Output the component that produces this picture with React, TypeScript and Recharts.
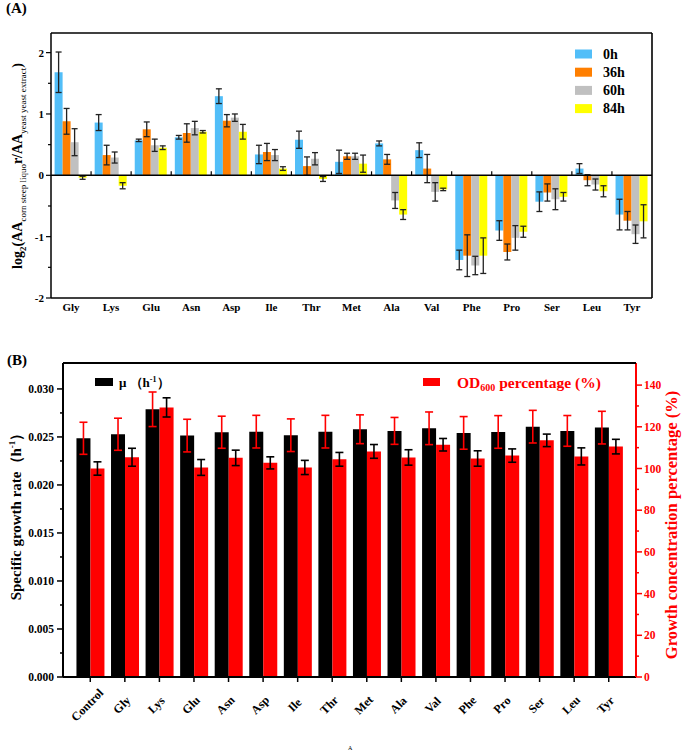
import React from 'react';
import { BarChart, Bar, XAxis, YAxis, ErrorBar, ReferenceLine } from 'recharts';

const FONT = '"Liberation Serif", "Times New Roman", serif';

// ---- panel A: log2 ratio per amino acid at four time points
const aminoA = ['Gly', 'Lys', 'Glu', 'Asn', 'Asp', 'Ile', 'Thr', 'Met', 'Ala', 'Val', 'Phe', 'Pro', 'Ser', 'Leu', 'Tyr'];
const h0 = [1.68, 0.86, 0.57, 0.62, 1.29, 0.34, 0.58, 0.22, 0.52, 0.41, -1.38, -0.9, -0.43, 0.11, -0.64];
const h0Err = [0.33, 0.13, 0.02, 0.03, 0.12, 0.15, 0.14, 0.19, 0.04, 0.12, 0.16, 0.16, 0.16, 0.08, 0.25];
const h36 = [0.88, 0.33, 0.75, 0.69, 0.89, 0.38, 0.15, 0.31, 0.26, 0.11, -1.31, -1.25, -0.28, -0.08, -0.74];
const h36Err = [0.21, 0.16, 0.12, 0.15, 0.1, 0.14, 0.15, 0.05, 0.08, 0.23, 0.34, 0.13, 0.14, 0.09, 0.15];
const h60 = [0.54, 0.29, 0.49, 0.77, 0.94, 0.33, 0.27, 0.31, -0.41, -0.27, -1.47, -1.02, -0.39, -0.15, -0.96];
const h60Err = [0.22, 0.09, 0.1, 0.11, 0.06, 0.09, 0.1, 0.05, 0.13, 0.15, 0.15, 0.2, 0.17, 0.09, 0.15];
const h84 = [-0.04, -0.17, 0.45, 0.71, 0.71, 0.11, -0.06, 0.19, -0.64, -0.23, -1.31, -0.92, -0.35, -0.26, -0.75];
const h84Err = [0.025, 0.05, 0.03, 0.02, 0.12, 0.03, 0.04, 0.14, 0.08, 0.02, 0.29, 0.09, 0.07, 0.09, 0.27];
const seriesA = ['0h', '36h', '60h', '84h'];
const colorsA = ['#52BEF8', '#FF7F00', '#C0C0C0', '#FFFF00'];
const ticksA = [-2, -1.5, -1, -0.5, 0, 0.5, 1, 1.5, 2];
const domainA = [-2, 2.32];

// ---- panel B: growth rate and OD600 percentage
const groupsB = ['Control', 'Gly', 'Lys', 'Glu', 'Asn', 'Asp', 'Ile', 'Thr', 'Met', 'Ala', 'Val', 'Phe', 'Pro', 'Ser', 'Leu', 'Tyr'];
const mu = [0.02486, 0.02528, 0.02788, 0.02514, 0.02549, 0.02555, 0.02518, 0.02555, 0.0258, 0.02563, 0.0259, 0.02542, 0.02552, 0.02607, 0.02563, 0.02597];
const muErr = [0.00167, 0.00167, 0.0018, 0.0017, 0.00167, 0.0017, 0.0017, 0.0017, 0.0015, 0.0014, 0.0017, 0.0017, 0.0017, 0.0017, 0.0016, 0.0017];
const od = [100.0, 105.4, 129.3, 100.5, 105.1, 102.7, 100.5, 104.4, 108.2, 105.3, 111.4, 104.8, 106.2, 113.5, 105.8, 110.5];
const odErr = [3.2, 4.3, 4.6, 3.8, 3.7, 2.9, 3.4, 3.3, 3.3, 3.7, 3.0, 3.7, 3.2, 3.0, 4.1, 3.5];
const ticksBLeft = [0, 0.0025, 0.005, 0.0075, 0.01, 0.0125, 0.015, 0.0175, 0.02, 0.0225, 0.025, 0.0275, 0.03];
const ticksBRight = [0, 10, 20, 30, 40, 50, 60, 70, 80, 90, 100, 110, 120, 130, 140];

const dataA = aminoA.map((name, i) => ({
  name,
  v0: h0[i], e0: h0Err[i],
  v36: h36[i], e36: h36Err[i],
  v60: h60[i], e60: h60Err[i],
  v84: h84[i], e84: h84Err[i],
}));
const keysA = [['v0', 'e0'], ['v36', 'e36'], ['v60', 'e60'], ['v84', 'e84']];

const dataB = groupsB.map((name, i) => ({ name, mu: mu[i], muErr: muErr[i], od: od[i], odErr: odErr[i] }));

const bold = { fontFamily: FONT, fontWeight: 'bold' as const };

const TickYA = (props: any) => {
  const { x, y, payload } = props;
  const v = payload.value;
  const major = Number.isInteger(v);
  return (
    <g>
      <line x1={x} x2={x - (major ? 5 : 3)} y1={y} y2={y} stroke="#000" strokeWidth={1.2} />
      {major && (
        <text x={x - 7} y={y} dy={4} textAnchor="end" fontSize={11} fill="#000" {...bold}>{v}</text>
      )}
    </g>
  );
};

const TickXA = (props: any) => {
  const { x, y, payload } = props;
  return (
    <text x={x} y={y} dy={13} textAnchor="middle" fontSize={11} fill="#000" {...bold}>{payload.value}</text>
  );
};

const TickYBLeft = (props: any) => {
  const { x, y, payload } = props;
  const v = payload.value;
  const major = Math.abs(v / 0.005 - Math.round(v / 0.005)) < 1e-6;
  return (
    <g>
      <line x1={x} x2={x - (major ? 6 : 3)} y1={y} y2={y} stroke="#000" strokeWidth={1.5} />
      {major && (
        <text x={x - 9} y={y} dy={4} textAnchor="end" fontSize={11.5} fill="#000" {...bold}>{v.toFixed(3)}</text>
      )}
    </g>
  );
};

const TickYBRight = (props: any) => {
  const { x, y, payload } = props;
  const v = payload.value;
  const major = v % 20 === 0;
  return (
    <g>
      <line x1={x} x2={x + (major ? 6 : 3)} y1={y} y2={y} stroke="#FF0000" strokeWidth={1.5} />
      {major && (
        <text x={x + 8} y={y} dy={4} textAnchor="start" fontSize={11.5} fill="#FF0000" {...bold}>{v}</text>
      )}
    </g>
  );
};

const TickXB = (props: any) => {
  const { x, y, payload } = props;
  return (
    <g>
      <line x1={x} x2={x} y1={y} y2={y + 5} stroke="#000" strokeWidth={1.5} />
      <text transform={`translate(${x - 3},${y + 28}) rotate(-45)`} dy={4} textAnchor="middle" fontSize={12} fill="#000" {...bold}>
        {payload.value}
      </text>
    </g>
  );
};

// zero line with small ticks at category boundaries
const ZeroLine = (props: any) => {
  const { x1, x2, y1 } = props;
  const n = aminoA.length;
  const step = (x2 - x1) / n;
  const marks = [];
  for (let k = 1; k < n; k++) {
    const xx = x1 + k * step;
    marks.push(<line key={k} x1={xx} x2={xx} y1={y1} y2={y1 - 4} stroke="#000" strokeWidth={1.2} />);
  }
  return (
    <g>
      <line x1={x1} x2={x2} y1={y1} y2={y1} stroke="#000" strokeWidth={1.5} />
      {marks}
    </g>
  );
};

export default function App() {
  return (
    <div style={{ position: 'absolute', left: 0, top: 0, width: 685, height: 751, background: '#fff', overflow: 'hidden' }}>
      <div style={{ position: 'absolute', left: 0, top: 0, width: 685, height: 320 }}>
        <BarChart width={685} height={320} data={dataA} margin={{ top: 33, right: 33, bottom: 2, left: 11 }} barCategoryGap="9%" barGap={0}>
          <XAxis dataKey="name" interval={0} height={20} tickSize={0} tickMargin={0} tickLine={false} tick={<TickXA />} axisLine={{ stroke: '#000', strokeWidth: 1.5 }} />
          <YAxis type="number" domain={domainA} allowDataOverflow ticks={ticksA} interval={0} width={40} tickSize={0} tickMargin={0} tickLine={false} tick={<TickYA />} axisLine={{ stroke: '#000', strokeWidth: 1.5 }} />
          {keysA.map(([vk, ek], i) => (
            <Bar key={vk} dataKey={vk} name={seriesA[i]} fill={colorsA[i]} isAnimationActive={false}>
              <ErrorBar dataKey={ek} width={3} stroke="#222" strokeWidth={1.3} isAnimationActive={false} />
            </Bar>
          ))}
          <ReferenceLine y={0} shape={<ZeroLine />} ifOverflow="visible" />
        </BarChart>
      </div>

      <div style={{ position: 'absolute', left: 0, top: 330, width: 685, height: 421 }}>
        <BarChart width={685} height={421} data={dataB} margin={{ top: 33, right: 9, bottom: 14, left: 13 }} barCategoryGap="10%" barGap={0}>
          <XAxis dataKey="name" interval={0} height={60} padding={{ left: 10, right: 10 }} tickSize={0} tickMargin={0} tickLine={false} tick={<TickXB />} axisLine={{ stroke: '#000', strokeWidth: 2 }} />
          <YAxis yAxisId="left" type="number" domain={[0, 0.0327]} allowDataOverflow ticks={ticksBLeft} interval={0} width={50} tickSize={0} tickMargin={0} tickLine={false} tick={<TickYBLeft />} axisLine={{ stroke: '#000', strokeWidth: 2 }} />
          <YAxis yAxisId="right" orientation="right" type="number" domain={[0, 150.6]} allowDataOverflow ticks={ticksBRight} interval={0} width={40} tickSize={0} tickMargin={0} tickLine={false} tick={<TickYBRight />} axisLine={{ stroke: '#FF0000', strokeWidth: 2 }} />
          <Bar yAxisId="left" dataKey="mu" fill="#000000" isAnimationActive={false}>
            <ErrorBar dataKey="muErr" width={4} stroke="#FF0000" strokeWidth={1.6} isAnimationActive={false} />
          </Bar>
          <Bar yAxisId="right" dataKey="od" fill="#FF0000" isAnimationActive={false}>
            <ErrorBar dataKey="odErr" width={4} stroke="#000000" strokeWidth={1.6} isAnimationActive={false} />
          </Bar>
        </BarChart>
      </div>

      <svg width={685} height={751} style={{ position: 'absolute', left: 0, top: 0, zIndex: 5, pointerEvents: 'none' }}>
        {/* plot frames: top + right edge of (A), top edge of (B) */}
        <line x1={51} x2={652} y1={33} y2={33} stroke="#000" strokeWidth={1.6} />
        <line x1={652} x2={652} y1={33} y2={298} stroke="#000" strokeWidth={1.6} />
        <line x1={63} x2={636} y1={363} y2={363} stroke="#000" strokeWidth={2} />

        <text x={6} y={13} fontSize={15} fill="#000" {...bold}>(A)</text>
        <text x={7} y={365} fontSize={15} fill="#000" {...bold}>(B)</text>

        {/* panel A y title */}
        <text transform="translate(22,166) rotate(-90)" textAnchor="middle" fontSize={14} fill="#000" {...bold}>
          log<tspan fontSize={9} dy={4}>2</tspan>
          <tspan dy={-4}>(AA</tspan>
          <tspan fontSize={9} fontWeight="normal" dy={4}>corn steep liquo</tspan>
          <tspan dy={-4}>r/AA</tspan>
          <tspan fontSize={9} fontWeight="normal" dy={4}>yeast yeast extract</tspan>
          <tspan dy={-4}>)</tspan>
        </text>

        {/* panel A legend */}
        {seriesA.map((s, i) => (
          <g key={s}>
            <rect x={575} y={49.5 + i * 18.2} width={17} height={9} fill={colorsA[i]} />
            <text x={603} y={58.5 + i * 18.2} fontSize={14} fill="#000" {...bold}>{s}</text>
          </g>
        ))}

        {/* panel B legend */}
        <rect x={95} y={378} width={18} height={8} fill="#000" />
        <text x={119} y={387} fontSize={13} fill="#000" {...bold}>
          μ  （h<tspan fontSize={8} dy={-5}>-1</tspan><tspan dy={5}>）</tspan>
        </text>
        <rect x={423} y={378} width={17} height={8} fill="#FF0000" />
        <text x={457} y={388} fontSize={15.5} fill="#FF0000" {...bold}>
          OD<tspan fontSize={10} dy={3}>600</tspan><tspan dy={-3}> percentage (%)</tspan>
        </text>

        {/* panel B axis titles */}
        <text transform="translate(21,513) rotate(-90)" textAnchor="middle" fontSize={15} fill="#000" {...bold}>
          Specific growth rate（h<tspan fontSize={9} dy={-6}>-1</tspan><tspan dy={6}>）</tspan>
        </text>
        <text transform="translate(677,525) rotate(-90)" textAnchor="middle" fontSize={16.5} fill="#FF0000" {...bold}>
          Growth concentration percentage (%)
        </text>

        <text x={348} y={750} fontSize={6} fill="#000" fontFamily={FONT}>A</text>
      </svg>
    </div>
  );
}
